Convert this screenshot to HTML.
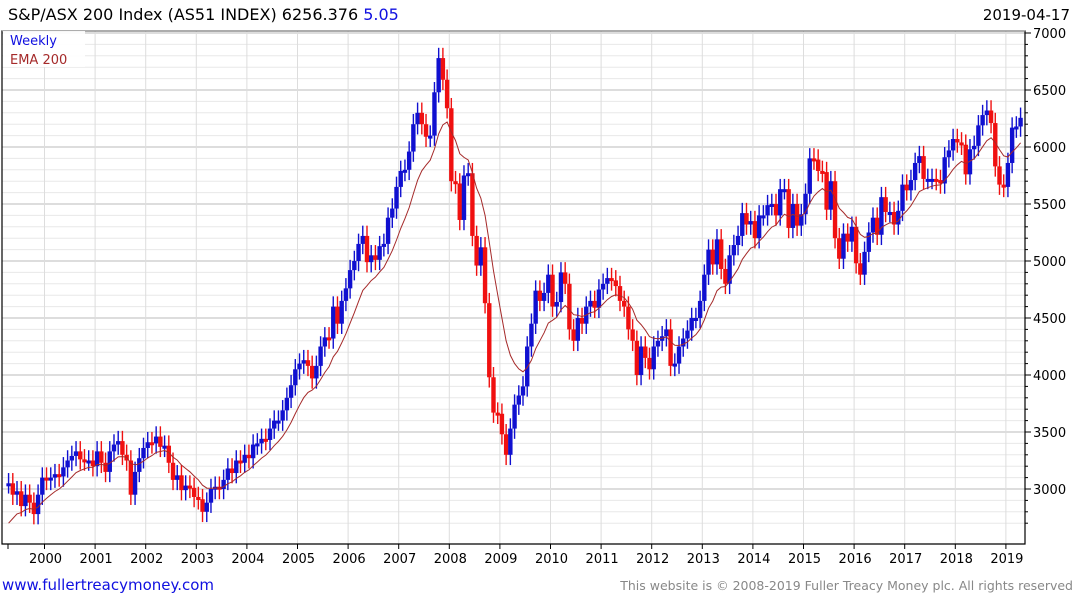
<!DOCTYPE html>
<html><head><meta charset="utf-8"><style>
body{margin:0;background:#fff;width:1075px;height:600px;overflow:hidden;font-family:"Liberation Sans","DejaVu Sans",sans-serif}
svg text{font-family:"DejaVu Sans","Liberation Sans",sans-serif}
</style></head><body>
<svg id="c" width="1075" height="600">
<text x="8" y="20" font-size="16" fill="#000">S&amp;P/ASX 200 Index (AS51 INDEX) 6256.376 <tspan fill="#1010e0">5.05</tspan></text>
<text x="1070" y="20" font-size="15" text-anchor="end" fill="#000">2019-04-17</text>
<g id="grid"></g>
<g id="marks"></g>
<rect x="3" y="31" width="82" height="36" fill="#fff" opacity="0.9"/>
<text x="10" y="45" font-size="13" fill="#1010e0">Weekly</text>
<text x="10" y="64" font-size="13" fill="#a52a2a">EMA 200</text>
<text x="2" y="590" font-size="15" fill="#1010e0">www.fullertreacymoney.com</text>
<text x="1073" y="590" font-size="12.5" text-anchor="end" fill="#888">This website is © 2008-2019 Fuller Treacy Money plc. All rights reserved</text>
</svg>
<script>
const startYear = 1999, startMonth = 3; // April 1999
const closes = [3050,2950,2980,2850,2950,2880,2780,2950,3100,
3080,3100,3130,3110,3190,3250,3290,3330,3260,3250,3250,3200,
3330,3230,3150,3330,3390,3420,3300,3250,2950,3150,3270,3360,
3410,3400,3460,3370,3380,3230,3080,3120,2990,3030,3010,2930,
2910,2800,2880,3000,3020,3000,3080,3180,3140,3250,3230,3300,
3270,3390,3400,3440,3430,3530,3600,3600,3690,3800,3910,4050,
4100,4130,4080,3970,4080,4250,4330,4320,4600,4450,4650,4760,
4920,5000,5150,5220,4990,5050,5010,5130,5150,5380,5460,5650,
5790,5800,5960,6200,6300,6200,6090,6100,6480,6780,6590,6340,
5700,5680,5360,5750,5770,5220,4960,5120,4630,3980,3670,3660,
3480,3300,3530,3740,3820,3900,4250,4450,4740,4650,4720,4880,
4600,4640,4900,4800,4400,4300,4500,4450,4600,4650,4590,4750,
4800,4850,4830,4780,4650,4600,4400,4300,4000,4250,4150,4050,
4250,4300,4340,4400,4080,4100,4250,4320,4390,4500,4500,4650,
4880,5100,4970,5190,4930,4800,5050,5140,5220,5420,5320,5350,
5200,5400,5400,5490,5500,5400,5630,5630,5290,5500,5310,5410,
5590,5900,5890,5790,5780,5450,5700,5200,5020,5240,5170,5300,
4980,4880,5080,5250,5380,5230,5560,5430,5430,5320,5440,5670,
5620,5710,5860,5920,5720,5720,5720,5710,5680,5910,5970,6070,
6040,6020,5760,5980,6010,6190,6280,6320,6210,5830,5670,5650,
5860,6170,6180,6256];
const emaStart = 2700;
const yTicks = [3000,3500,4000,4500,5000,5500,6000,6500,7000];
const xYears = [2000,2001,2002,2003,2004,2005,2006,2007,2008,2009,2010,2011,2012,2013,2014,2015,2016,2017,2018,2019];

const L=2,R=1025,T=31,B=544;
const ys=v=>33+(7000-v)*0.114;
const xs=d=>44.5+(d-2000)*50.6;
const NS='http://www.w3.org/2000/svg';
function mk(t,a,p){const e=document.createElementNS(NS,t);for(const k in a)e.setAttribute(k,a[k]);p.appendChild(e);return e;}
const grid=document.getElementById('grid'), marks=document.getElementById('marks');
for(let v=2700;v<=7000;v+=100){
  const y=ys(v), major=v%500===0;
  const g=mk('line',{x1:L,x2:R,y1:y,y2:y,stroke:major?'#bbb':'#e8e8e8','stroke-width':1},grid);
  
  
  const t=mk('line',{x1:R,x2:R+(major?6:3),y1:y,y2:y,stroke:'#000'},grid);
  
  
}
yTicks.forEach(v=>{
  const t=mk('text',{x:R+8,y:ys(v)+5,'font-size':13,fill:'#000'},grid);t.textContent=v;
  
  
});
xYears.forEach(yr=>{
  const x=xs(yr);
  const g=mk('line',{x1:x,x2:x,y1:T,y2:B,stroke:'#ddd'},grid);
  
  
  const tk=mk('line',{x1:x,x2:x,y1:B,y2:B+5,stroke:'#000'},grid);
  
  
  const t=mk('text',{x:x+1,y:563,'font-size':13,'text-anchor':'middle',fill:'#000'},grid);t.textContent=yr;
  
  
});
const tk0=mk('line',{x1:8,x2:8,y1:B,y2:B+5,stroke:'#000'},grid);


const fr=mk('path',{d:`M${L} ${T}H${R}V${B}H${L}Z`,fill:'none',stroke:'#000','stroke-width':1.2},grid);


const topl=mk('line',{x1:L,x2:R,y1:T,y2:T,stroke:'#999'},grid);


let prev=closes[0], ema=emaStart, pts=[];
const alpha=2/(11+1);
closes.forEach((c,i)=>{
  const d=startYear+(startMonth+i)/12+0.04;
  const x=xs(d);
  const o=prev, up=c>=o, col=up?'#1010d0':'#f01010';
  const hi=Math.max(o,c)+90, lo=Math.min(o,c)-90;
  const w=mk('line',{x1:x,x2:x,y1:ys(hi),y2:ys(lo),stroke:col,'stroke-width':1.4},marks);
  
  
  const y1=ys(Math.max(o,c)), y2=ys(Math.min(o,c));
  const r=mk('rect',{x:x-2.2,y:y1,width:4.4,height:Math.max(3,y2-y1),fill:col},marks);
  
  
  ema = i===0?emaStart:ema+alpha*(c-ema);
  pts.push(x.toFixed(1)+','+ys(ema).toFixed(1));
  prev=c;
});
const pl=mk('polyline',{points:pts.join(' '),fill:'none',stroke:'#a52a2a','stroke-width':1},marks);


</script>
</body></html>
